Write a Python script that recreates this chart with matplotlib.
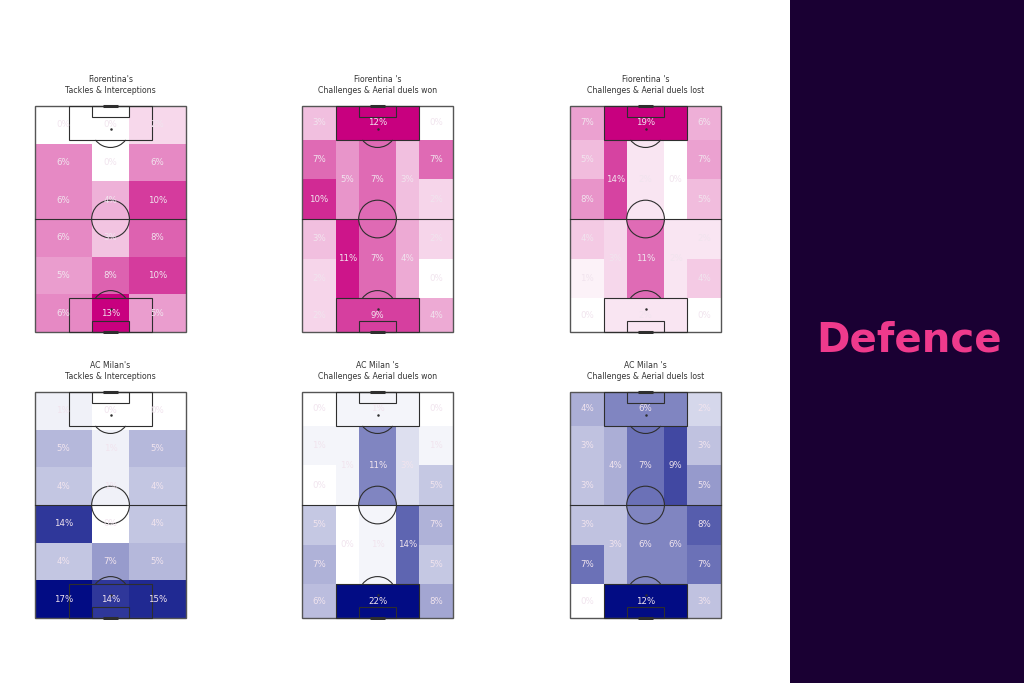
import matplotlib.pyplot as plt
from matplotlib.patches import Rectangle, Circle, Arc
from matplotlib.colors import LinearSegmentedColormap, Normalize

# pitch 80 wide x 120 long (vertical), goal we attack at the top
# tackles grid: 3 columns x 6 rows, rows listed top -> bottom
grid_x = [0, 30, 50, 80]
grid_y = [0, 20, 40, 60, 80, 100, 120]

fio_tackles = [
    [0, 0, 2],
    [6, 0, 6],
    [6, 4, 10],
    [6, 3, 8],
    [5, 8, 10],
    [6, 13, 5],
]
milan_tackles = [
    [1, 0, 0],
    [5, 1, 5],
    [4, 1, 4],
    [14, 0, 4],
    [4, 7, 5],
    [17, 14, 15],
]

# positional zones, order: top row (LF, box, RF), top-half flanks / half spaces / centre,
# bottom-half ..., bottom row
fio_won = [3, 12, 0, 7, 10, 5, 7, 3, 7, 2, 3, 2, 11, 7, 4, 2, 0, 2, 9, 4]
fio_lost = [7, 19, 6, 5, 8, 14, 2, 0, 7, 5, 4, 1, 3, 11, 2, 2, 4, 0, 2, 0]
milan_won = [0, 1, 0, 1, 0, 1, 11, 3, 1, 5, 5, 7, 0, 1, 14, 7, 5, 6, 22, 8]
milan_lost = [4, 6, 2, 3, 3, 4, 7, 9, 3, 5, 3, 7, 3, 6, 6, 8, 7, 0, 12, 3]

titles = [
    "Fiorentina's\nTackles & Interceptions",
    "Fiorentina 's\nChallenges & Aerial duels won",
    "Fiorentina 's\nChallenges & Aerial duels lost",
    "AC Milan's\nTackles & Interceptions",
    "AC Milan 's\nChallenges & Aerial duels won",
    "AC Milan 's\nChallenges & Aerial duels lost",
]

W = [0, 18, 30, 50, 62, 80]
L = [0, 18, 39, 60, 81, 102, 120]
# (width edge idx from, to, length edge idx from, to)
zones = [
    (0, 1, 5, 6), (1, 4, 5, 6), (4, 5, 5, 6),
    (0, 1, 4, 5), (0, 1, 3, 4),
    (1, 2, 3, 5), (2, 3, 3, 5), (3, 4, 3, 5),
    (4, 5, 4, 5), (4, 5, 3, 4),
    (0, 1, 2, 3), (0, 1, 1, 2),
    (1, 2, 1, 3), (2, 3, 1, 3), (3, 4, 1, 3),
    (4, 5, 2, 3), (4, 5, 1, 2),
    (0, 1, 0, 1), (1, 4, 0, 1), (4, 5, 0, 1),
]

fio_cmap = LinearSegmentedColormap.from_list('fio', ['#ffffff', '#c8007f'])
milan_cmap = LinearSegmentedColormap.from_list('milan', ['#ffffff', '#020c84'])

line_c = '#2e2e2e'
txt_c = '#f1e4ee'


def draw_pitch(ax):
    lw = 0.8
    ax.add_patch(Rectangle((0, 0), 80, 120, fill=False, ec='#555555', lw=1.0, zorder=3))
    ax.plot([0, 80], [60, 60], color=line_c, lw=lw, zorder=3)
    ax.add_patch(Circle((40, 60), 10, fill=False, ec=line_c, lw=lw, zorder=3))
    for y0, sgn in [(0, 1), (120, -1)]:
        ax.add_patch(Rectangle((18, y0), 44, 18 * sgn, fill=False, ec=line_c, lw=lw, zorder=3))
        ax.add_patch(Rectangle((30, y0), 20, 6 * sgn, fill=False, ec=line_c, lw=lw, zorder=3))
        ax.plot(40, y0 + 12 * sgn, marker='o', ms=0.8, color=line_c, zorder=3)
        if sgn == 1:
            ax.add_patch(Arc((40, 12), 20, 20, theta1=37, theta2=143, ec=line_c, lw=lw, zorder=3))
        else:
            ax.add_patch(Arc((40, 108), 20, 20, theta1=217, theta2=323, ec=line_c, lw=lw, zorder=3))
        ax.plot([36, 44], [y0, y0], color=line_c, lw=2.2, zorder=3, solid_capstyle='butt')
    ax.set_xlim(-1, 81)
    ax.set_ylim(-1, 121)
    ax.axis('off')


def grid_heat(ax, vals, cmap):
    vmax = max(max(r) for r in vals)
    rows = vals[::-1]  # bottom -> top for pcolormesh
    ax.pcolormesh(grid_x, grid_y, rows, cmap=cmap, vmin=0, vmax=vmax, zorder=1)
    for i, r in enumerate(rows):
        for j, v in enumerate(r):
            ax.text((grid_x[j] + grid_x[j + 1]) / 2, (grid_y[i] + grid_y[i + 1]) / 2,
                    f'{v}%', ha='center', va='center', fontsize=6.2, color=txt_c, zorder=4)


def zone_heat(ax, vals, cmap):
    norm = Normalize(0, max(vals))
    for (a, b, c, d), v in zip(zones, vals):
        ax.add_patch(Rectangle((W[a], L[c]), W[b] - W[a], L[d] - L[c],
                               fc=cmap(norm(v)), ec='none', zorder=1))
        ax.text((W[a] + W[b]) / 2, (L[c] + L[d]) / 2, f'{v}%', ha='center', va='center',
                fontsize=6.2, color=txt_c, zorder=4)


fig = plt.figure(figsize=(10.24, 6.83), dpi=100)
fig.patch.set_facecolor('white')

side = fig.add_axes([790 / 1024, 0, 234 / 1024, 1])
side.set_facecolor('#1a0033')
side.set_xticks([])
side.set_yticks([])
for s in side.spines.values():
    s.set_visible(False)
side.text(0.51, 1 - 340 / 683, 'Defence', transform=side.transAxes, ha='center', va='center',
          fontsize=29, fontweight='bold', color='#ee3a8c')

col_x = [35, 302, 570]
row_y = [106, 392]
pw, ph = 151, 226
panels = [
    (fio_tackles, fio_cmap, 'grid'),
    (fio_won, fio_cmap, 'zone'),
    (fio_lost, fio_cmap, 'zone'),
    (milan_tackles, milan_cmap, 'grid'),
    (milan_won, milan_cmap, 'zone'),
    (milan_lost, milan_cmap, 'zone'),
]

for k, (vals, cmap, kind) in enumerate(panels):
    r, c = divmod(k, 3)
    x0 = col_x[c] - pw / 82
    y0 = row_y[r] - ph / 122
    w = pw * 82 / 80
    h = ph * 122 / 120
    ax = fig.add_axes([x0 / 1024, 1 - (y0 + h) / 683, w / 1024, h / 683])
    if kind == 'grid':
        grid_heat(ax, vals, cmap)
    else:
        zone_heat(ax, vals, cmap)
    draw_pitch(ax)
    ax.text(40, 126, titles[k], ha='center', va='bottom', fontsize=5.6, color='#333333',
            linespacing=1.25)

fig.savefig('out.png', dpi=100)
